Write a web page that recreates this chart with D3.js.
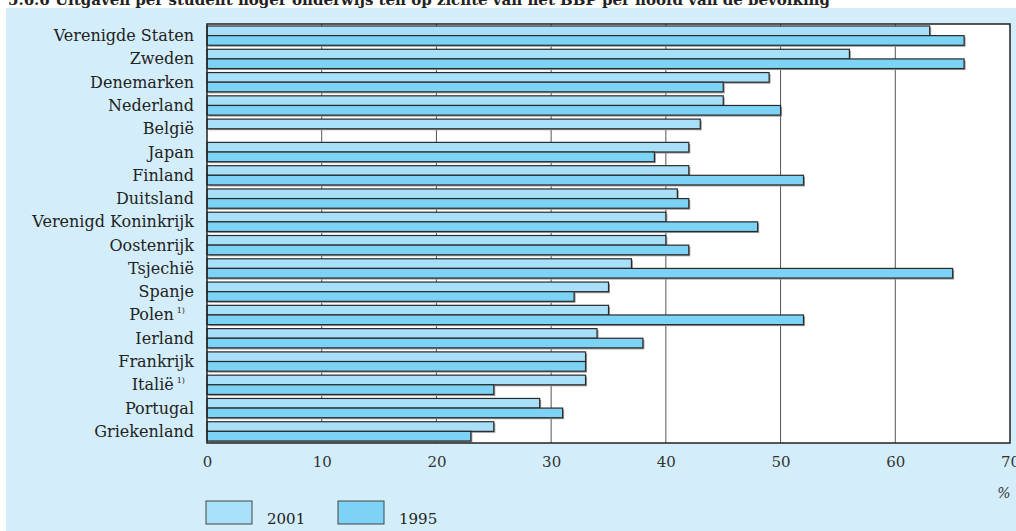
<!DOCTYPE html>
<html>
<head>
<meta charset="utf-8">
<script src="https://cdn.jsdelivr.net/npm/d3@7"></script>
<style>
  html, body { margin: 0; padding: 0; background: #ffffff; }
  svg { display: block; }
</style>
</head>
<body>
<svg id="chart" width="1016" height="531"></svg>
<script>
const categories = ["Verenigde Staten","Zweden","Denemarken","Nederland","België","Japan","Finland","Duitsland","Verenigd Koninkrijk","Oostenrijk","Tsjechië","Spanje","Polen","Ierland","Frankrijk","Italië","Portugal","Griekenland"];
const footnoted = ["Polen","Italië"];
const series = ["2001","1995"];
const values2001 = [63,56,49,45,43,42,42,41,40,40,37,35,35,34,33,33,29,25];
const values1995 = [66,66,45,50,null,39,52,42,48,42,65,32,52,38,33,25,31,23];
const xTicks = [0,10,20,30,40,50,60,70];
const titleText = "5.6.6 Uitgaven per student hoger onderwijs ten op zichte van het BBP per hoofd van de bevolking";
const unitLabel = "%";

const colors = { "2001": "#a9e0f9", "1995": "#7dd3f5" };
const serif = "'DejaVu Serif', 'Liberation Serif', serif";

const svg = d3.select("#chart");
svg.append("rect").attr("x",0).attr("y",0).attr("width",1016).attr("height",531).attr("fill","#ffffff");
svg.append("rect").attr("x",6).attr("y",8).attr("width",1010).attr("height",523).attr("fill","#d3eefa");

svg.append("text").attr("x",8).attr("y",5).attr("font-family",serif).attr("font-weight","bold")
  .attr("font-size",14).attr("fill","#222")
  .attr("textLength",822).attr("lengthAdjust","spacingAndGlyphs").text(titleText);

const pLeft = 207, pRight = 1010, pTop = 24, pBottom = 443;
const x = d3.scaleLinear().domain([0,70]).range([pLeft,pRight]);
const y = d3.scaleBand().domain(categories).range([pTop,pBottom]).padding(0);
const bw = y.bandwidth();
const ys = d3.scaleBand().domain(series).range([2, bw-2]);

svg.append("rect").attr("x",pLeft).attr("y",pTop).attr("width",pRight-pLeft).attr("height",pBottom-pTop)
  .attr("fill","#ffffff");

svg.append("g").selectAll("line").data(xTicks.slice(1,-1)).join("line")
  .attr("x1",d=>x(d)).attr("x2",d=>x(d)).attr("y1",pTop).attr("y2",pBottom)
  .attr("stroke","#555").attr("stroke-width",1);

const data = [];
categories.forEach((c,i)=>{
  data.push({c, s:"2001", v:values2001[i]});
  if (values1995[i] != null) data.push({c, s:"1995", v:values1995[i]});
});

const bars = svg.append("g");
bars.selectAll("rect.sh").data(data).join("rect").attr("class","sh")
  .attr("x",x(0)+1.5).attr("y",d=>y(d.c)+ys(d.s)+1.5)
  .attr("width",d=>x(d.v)-x(0)).attr("height",ys.bandwidth())
  .attr("fill","#9a9a9a");
bars.selectAll("rect.bar").data(data).join("rect").attr("class","bar")
  .attr("x",x(0)).attr("y",d=>y(d.c)+ys(d.s))
  .attr("width",d=>x(d.v)-x(0)).attr("height",ys.bandwidth())
  .attr("fill",d=>colors[d.s]).attr("stroke","#2a2a2a").attr("stroke-width",1.2);

svg.append("rect").attr("x",pLeft).attr("y",pTop).attr("width",pRight-pLeft).attr("height",pBottom-pTop)
  .attr("fill","none").attr("stroke","#222").attr("stroke-width",1.5);

const lab = svg.append("g").selectAll("text").data(categories).join("text")
  .attr("x",194).attr("y",d=>y(d)+bw/2+5.5).attr("text-anchor","end")
  .attr("font-family",serif).attr("font-size",16).attr("fill","#222");
lab.each(function(d){
  const t = d3.select(this);
  t.append("tspan").text(d);
  if (footnoted.includes(d)) {
    t.append("tspan").attr("font-size",8).attr("dx",3).attr("dy",-7).text("1)");
  }
});
lab.filter(d=>footnoted.includes(d)).attr("x",185);

const xAxis = d3.axisBottom(x).tickValues(xTicks).tickSize(0).tickPadding(0);
const gx = svg.append("g").attr("transform",`translate(0,${pBottom})`).call(xAxis);
gx.select(".domain").remove();
gx.selectAll("text").attr("font-family",serif).attr("font-size",15).attr("fill","#333").attr("dy","1.6em");

svg.append("text").attr("x",1004).attr("y",498).attr("text-anchor","middle")
  .attr("font-family",serif).attr("font-style","italic").attr("font-size",14).attr("fill","#333").text(unitLabel);

const lg = svg.append("g");
series.forEach((s,i)=>{
  const lx = 206 + i*132;
  lg.append("rect").attr("x",lx).attr("y",501).attr("width",46).attr("height",23)
    .attr("fill",colors[s]).attr("stroke","#444").attr("stroke-width",1);
  lg.append("text").attr("x",lx+61).attr("y",524).attr("font-family",serif).attr("font-size",15)
    .attr("fill","#222").text(s);
});
</script>
</body>
</html>
